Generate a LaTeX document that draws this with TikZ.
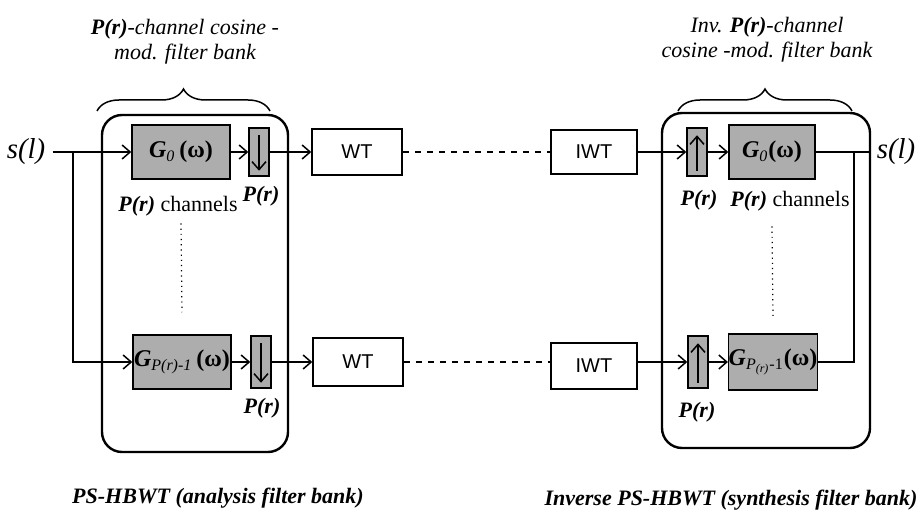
\documentclass[tikz,border=0pt]{standalone}
\usepackage{amsmath}
\usepackage{fontspec}
\setmainfont{Liberation Serif}
\setsansfont{Liberation Sans}
\usetikzlibrary{arrows.meta,decorations.pathreplacing}

\newcommand{\Pbi}{\textbf{\textit{P(r)}}}

\begin{document}
\begin{tikzpicture}[x=0.5pt,y=-0.5pt,line width=0.75pt,
  >={Straight Barb[length=4pt,width=7pt]},
  filt/.style={draw,fill=black!32,minimum width=49pt,minimum height=27pt,inner sep=0pt,font=\large},
  samp/.style={draw,fill=black!32,minimum width=10pt,minimum height=24pt,inner sep=0pt},
  tbox/.style={draw,minimum width=45pt,minimum height=23pt,font=\sffamily},
  bank/.style={line width=1.2pt,rounded corners=10pt},
  lbl/.style={font=\fontsize{11}{13}\selectfont},
  sig/.style={font=\Large\itshape},
  captxt/.style={font=\fontsize{11}{13}\selectfont\bfseries\itshape}]
\useasboundingbox (0,0) rectangle (921,513);

\node[lbl,align=center,font=\fontsize{11}{12.5}\selectfont\itshape] (tta) at (185,42) {\Pbi-channel cosine -\\mod. filter bank};
\node[lbl,align=center,font=\fontsize{11}{12.5}\selectfont\itshape] (ttb) at (767,40) {Inv. \Pbi-channel\\cosine -mod. filter bank};
\draw[decorate,decoration={brace,amplitude=11pt}] (97,111) -- (270,111);
\draw[decorate,decoration={brace,amplitude=11pt}] (678,111) -- (852,111);

\draw[bank] (102,115) rectangle (288,452);
\draw[bank] (662,113) rectangle (870,448);

\node[sig] (sin) at (26,152) {s(l)};
\node[filt] (g0a) at (181,152) {\textbf{\textit{G}}$_{\textit{0}}$\,\textbf{(ω)}};
\node[samp] (dna) at (259,152) {};
\node[tbox] (wta) at (357,152) {WT};
\node[filt] (gna) at (182,362) {\textbf{\textit{G}}$_{\textit{P(r)-1}}$\,\textbf{(ω)}};
\node[samp,minimum height=26pt] (dnb) at (261,362) {};
\node[tbox,minimum height=24pt] (wtb) at (358,362) {WT};

\node[tbox,minimum width=43pt,minimum height=22pt] (iwta) at (594,152) {IWT};
\node[samp] (upa) at (697,152) {};
\node[filt,minimum width=43pt] (g0b) at (772,152) {\textbf{\textit{G}}$_{\textit{0}}$\textbf{(ω)}};
\node[sig] (sout) at (896,152) {s(l)};
\node[tbox,minimum width=43pt] (iwtb) at (594,366) {IWT};
\node[samp,minimum height=26pt] (upb) at (698,362) {};
\node[filt,minimum width=42pt,minimum height=28pt] (gnb) at (773,362) {\textbf{\textit{G}}$_{\textit{P}_{\textit{(r)}}\textrm{-1}}$\textbf{(ω)}};

\node[lbl] (pa) at (261,196) {\Pbi};
\node[lbl] (cha) at (178,206) {\Pbi{} channels};
\node[lbl] (pb) at (262,408) {\Pbi};
\node[lbl] (pc) at (699,200) {\Pbi};
\node[lbl] (chb) at (790,201) {\Pbi{} channels};
\node[lbl] (pd) at (697,412) {\Pbi};

\coordinate (br) at (73,152);
\coordinate (jn) at (854,152);

\draw[->] (sin) -- (g0a);
\draw[->] (br) |- (gna);
\draw[->] (g0a) -- (dna);
\draw[->] (dna) -- (wta);
\draw[->] (gna) -- (dnb);
\draw[->] (dnb) -- (wtb);
\draw[->] ([yshift=-4pt]dna.north) -- ([yshift=3pt]dna.south);
\draw[->] ([yshift=-4pt]dnb.north) -- ([yshift=3pt]dnb.south);

\draw[dashed,line width=0.6pt] (wta) -- (iwta);
\draw[dashed,line width=0.6pt] (wtb) -- (iwtb.west |- wtb.east);

\draw[->] (iwta) -- (upa);
\draw[->] (upa) -- (g0b);
\draw[->] (iwtb.east |- upb.west) -- (upb);
\draw[->] (upb) -- (gnb);
\draw[->] ([yshift=3pt]upa.south) -- ([yshift=-4pt]upa.north);
\draw[->] ([yshift=3pt]upb.south) -- ([yshift=-4pt]upb.north);
\draw (g0b) -- (sout);
\draw (gnb.east) -| (jn);

\draw[dotted,line width=0.6pt] (g0a.south |- cha.south) -- ([yshift=11pt]gna.north);
\draw[dotted,line width=0.6pt] (g0b.south |- chb.south) ++(0,8) -- ([yshift=8pt]gnb.north);

\node[captxt] (capa) at (218,498) {PS-HBWT (analysis filter bank)};
\node[captxt] (capb) at (731,500) {Inverse PS-HBWT (synthesis filter bank)};
\end{tikzpicture}
\end{document}
